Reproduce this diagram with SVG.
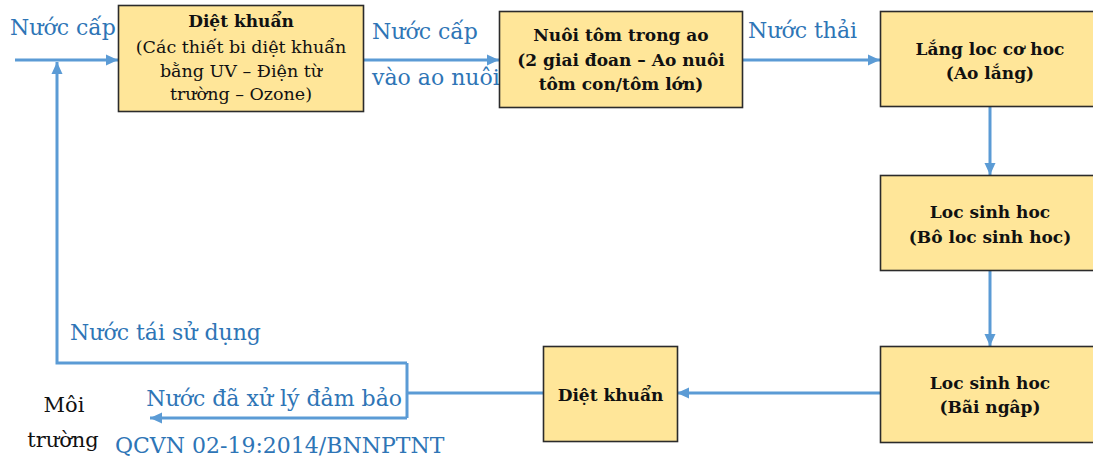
<svg xmlns="http://www.w3.org/2000/svg" width="1093" height="461" viewBox="0 0 1093 461">
<style>
.box{fill:#FFE699;stroke:#2b2b2b;stroke-width:1.6}
.bt{font-family:"DejaVu Serif","Liberation Serif",serif;font-size:17px;font-weight:bold;fill:#111;text-anchor:middle}
.rt{font-family:"DejaVu Serif","Liberation Serif",serif;font-size:17.5px;fill:#111;text-anchor:middle}
.lbl{font-family:"DejaVu Serif","Liberation Serif",serif;font-size:22px;fill:#2E75B6}
.blk{font-family:"DejaVu Serif","Liberation Serif",serif;font-size:21px;fill:#111}
.ln{fill:none;stroke:#5B9BD5;stroke-width:3}
</style>
<defs>
<marker id="ah" markerUnits="userSpaceOnUse" markerWidth="14" markerHeight="14" refX="12" refY="7" orient="auto">
<path d="M0,1.5 L12,7 L0,12.5 Z" fill="#5B9BD5"/>
</marker>
</defs>
<rect width="1093" height="461" fill="#ffffff"/>
<g id="connectors">
<path class="ln" d="M15,60 H118" marker-end="url(#ah)"/>
<path class="ln" d="M363,60 H499" marker-end="url(#ah)"/>
<path class="ln" d="M742,60 H880" marker-end="url(#ah)"/>
<path class="ln" d="M990,106 V175" marker-end="url(#ah)"/>
<path class="ln" d="M990,270 V346" marker-end="url(#ah)"/>
<path class="ln" d="M880,393 H677" marker-end="url(#ah)"/>
<path class="ln" d="M543,393 H407"/>
<path class="ln" d="M407,363 V418"/>
<path class="ln" d="M407,418 H150" marker-end="url(#ah)"/>
<path class="ln" d="M407,363 H57 V62" marker-end="url(#ah)"/>
</g>
<g id="labels">
<text class="lbl" x="10" y="35">Nước cấp</text>
<text class="lbl" x="372" y="39">Nước cấp</text>
<text class="lbl" x="372" y="85">vào ao nuôi</text>
<text class="lbl" x="748" y="38">Nước thải</text>
<text class="lbl" x="70" y="340">Nước tái sử dụng</text>
<text class="lbl" x="402" y="406" text-anchor="end">Nước đã xử lý đảm bảo</text>
<text class="lbl" x="115" y="453">QCVN 02-19:2014/BNNPTNT</text>
</g>
<g id="moi-truong">
<text class="blk" x="64" y="412" text-anchor="middle">Môi</text>
<text class="blk" x="63" y="447" text-anchor="middle">trường</text>
</g>
<g id="diet-khuan-1">
<rect class="box" x="118.5" y="5.5" width="245" height="106"/>
<text class="bt" x="241" y="27">Diệt khuẩn</text>
<text class="rt" x="241" y="53">(Các thiết bi diệt khuẩn</text>
<text class="rt" x="241" y="77">bằng UV – Điện từ</text>
<text class="rt" x="241" y="100">trường – Ozone)</text>
</g>
<g id="nuoi-tom">
<rect class="box" x="499.5" y="11.5" width="243" height="96"/>
<text class="bt" x="621" y="41">Nuôi tôm trong ao</text>
<text class="bt" x="621" y="66">(2 giai đoan – Ao nuôi</text>
<text class="bt" x="621" y="90">tôm con/tôm lớn)</text>
</g>
<g id="lang-loc">
<rect class="box" x="880.5" y="11.5" width="222" height="95"/>
<text class="bt" x="990" y="55">Lắng loc cơ hoc</text>
<text class="bt" x="990" y="79">(Ao lắng)</text>
</g>
<g id="loc-sinh-hoc-1">
<rect class="box" x="880.5" y="175.5" width="222" height="95"/>
<text class="bt" x="990" y="218">Loc sinh hoc</text>
<text class="bt" x="990" y="243">(Bô loc sinh hoc)</text>
</g>
<g id="loc-sinh-hoc-2">
<rect class="box" x="880.5" y="346.5" width="222" height="96"/>
<text class="bt" x="990" y="389">Loc sinh hoc</text>
<text class="bt" x="990" y="413">(Bãi ngâp)</text>
</g>
<g id="diet-khuan-2">
<rect class="box" x="543.5" y="346.5" width="134" height="95"/>
<text class="bt" x="610.5" y="401">Diệt khuẩn</text>
</g>
</svg>
